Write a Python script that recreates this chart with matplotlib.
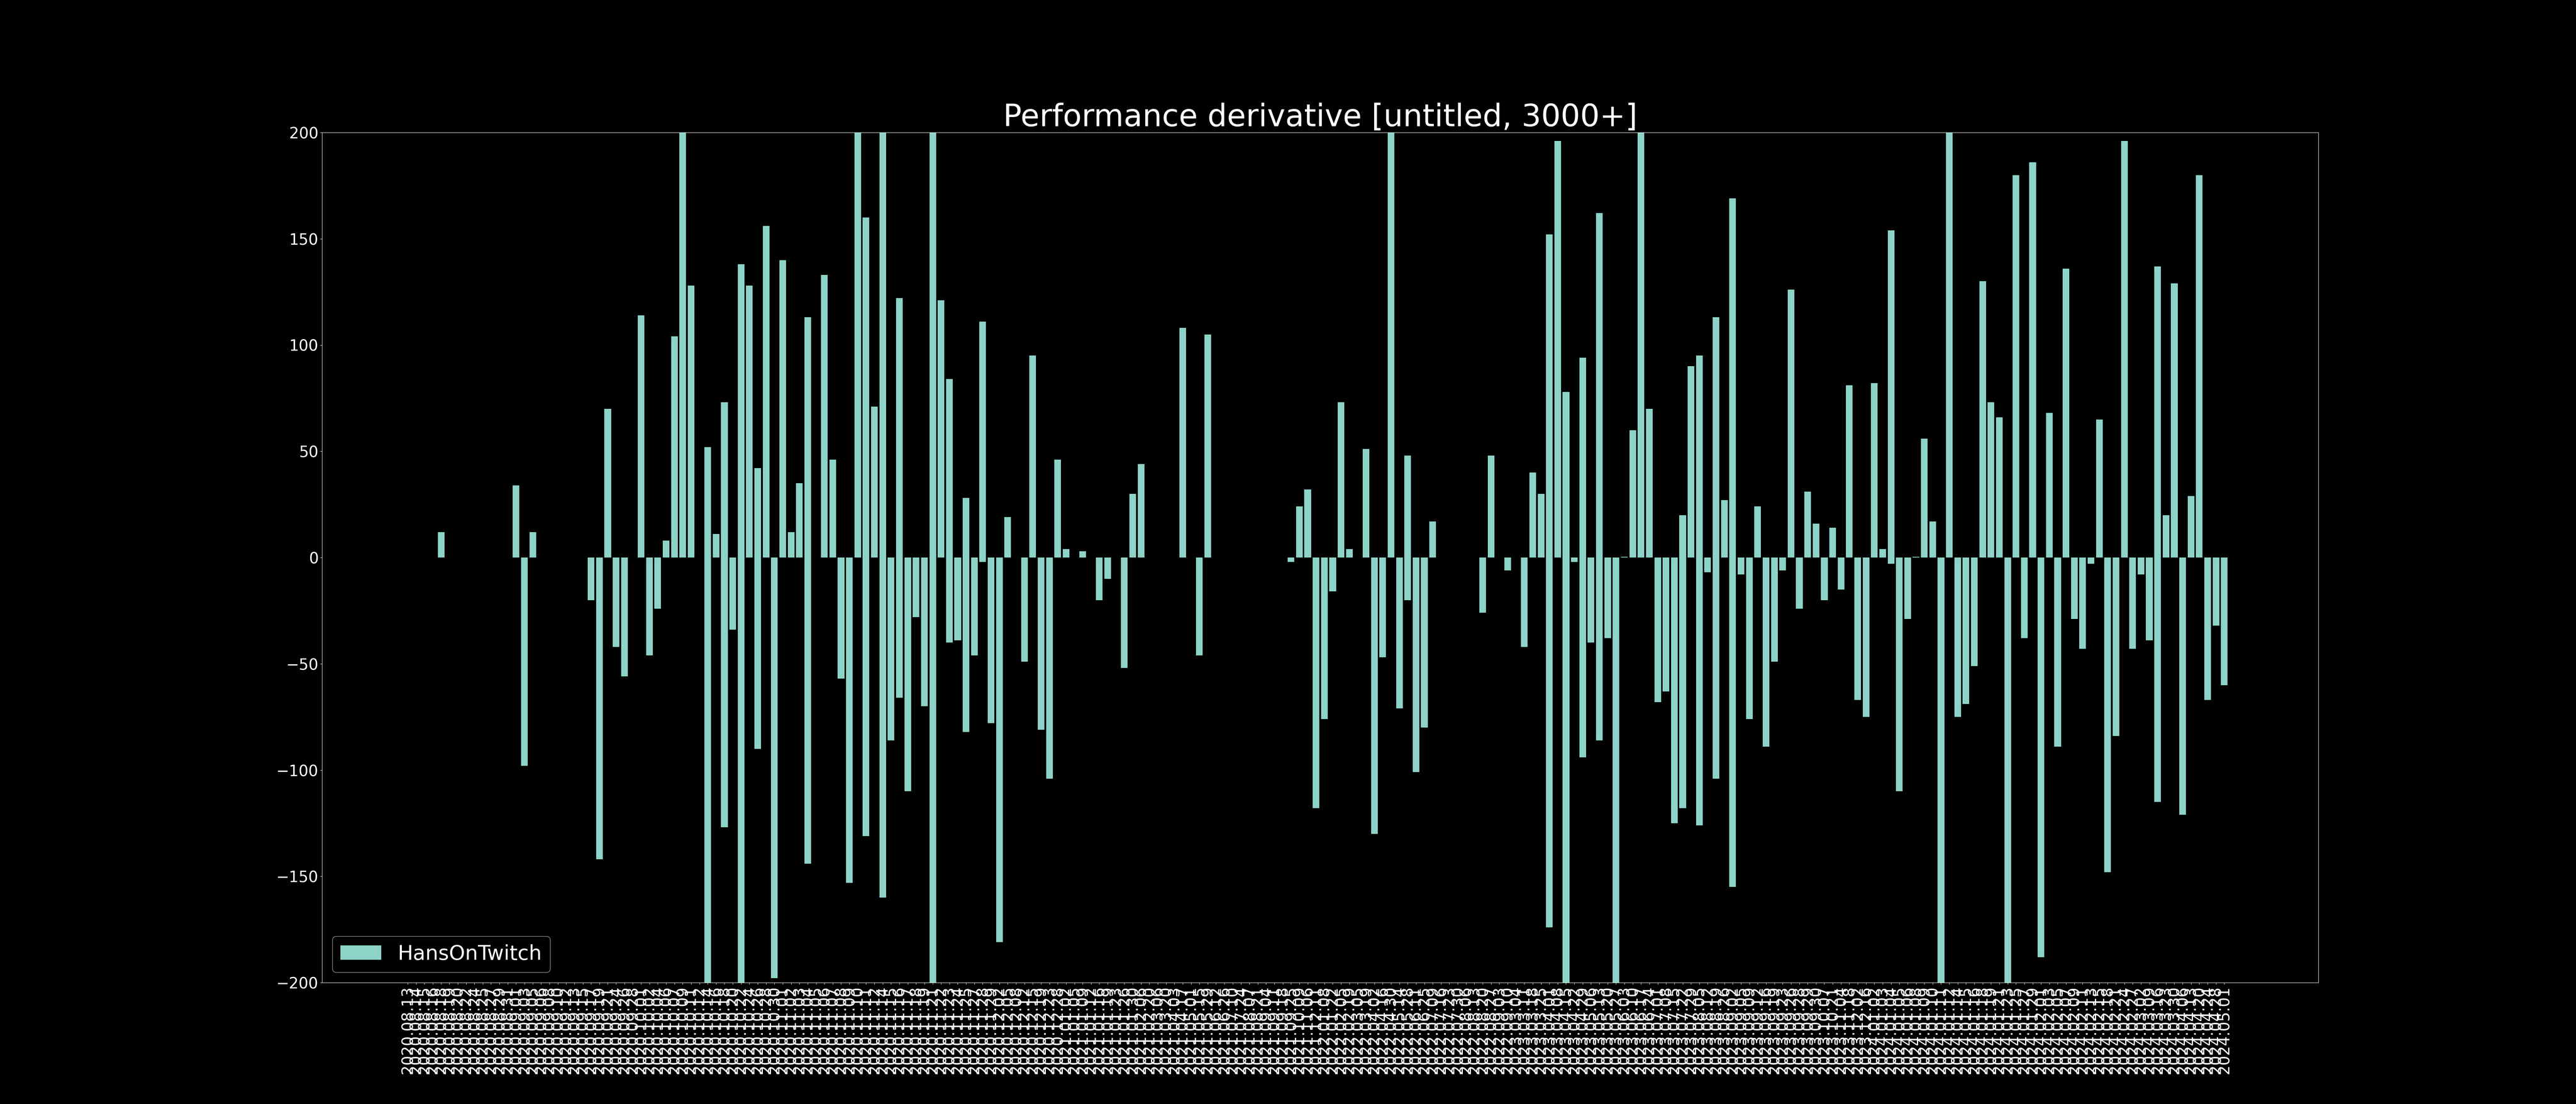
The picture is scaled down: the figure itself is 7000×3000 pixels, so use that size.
import numpy as np
import matplotlib
matplotlib.use("Agg")
import matplotlib.pyplot as plt

title = "Performance derivative [untitled, 3000+]"
series_name = "HansOnTwitch"

dates = [
    "2020.08.13", "2020.08.14", "2020.08.15", "2020.08.16", "2020.08.18", "2020.08.19", "2020.08.20",
    "2020.08.22", "2020.08.24", "2020.08.25", "2020.08.27", "2020.08.29", "2020.08.31",
    "2020.09.01", "2020.09.03", "2020.09.05", "2020.09.06", "2020.09.08", "2020.09.10", "2020.09.12",
    "2020.09.13", "2020.09.15", "2020.09.17", "2020.09.19", "2020.09.21", "2020.09.24", "2020.09.26",
    "2020.09.28",
    "2020.10.01", "2020.10.02", "2020.10.04", "2020.10.06", "2020.10.07", "2020.10.09", "2020.10.11",
    "2020.10.12", "2020.10.14", "2020.10.16", "2020.10.18", "2020.10.20", "2020.10.22", "2020.10.24",
    "2020.10.26", "2020.10.28", "2020.10.30",
    "2020.11.01", "2020.11.02", "2020.11.03", "2020.11.04", "2020.11.05", "2020.11.06", "2020.11.07",
    "2020.11.08", "2020.11.09", "2020.11.10", "2020.11.11", "2020.11.12", "2020.11.14", "2020.11.15",
    "2020.11.16", "2020.11.17", "2020.11.18", "2020.11.19", "2020.11.21", "2020.11.22", "2020.11.23",
    "2020.11.24", "2020.11.25", "2020.11.27", "2020.11.28", "2020.11.29",
    "2020.12.02", "2020.12.05", "2020.12.08", "2020.12.12", "2020.12.15", "2020.12.19", "2020.12.23",
    "2020.12.28",
    "2021.01.02", "2021.01.05", "2021.01.09", "2021.01.12", "2021.01.16", "2021.01.19", "2021.01.23",
    "2021.01.26", "2021.01.30",
    "2021.02.06", "2021.02.20", "2021.03.06", "2021.03.20", "2021.04.03", "2021.04.17", "2021.05.01",
    "2021.05.15", "2021.05.29", "2021.06.12", "2021.06.26", "2021.07.10", "2021.07.24", "2021.08.07",
    "2021.08.21", "2021.09.04", "2021.09.11", "2021.09.18", "2021.09.25",
    "2021.10.09", "2021.11.06", "2021.12.11",
    "2022.01.08", "2022.01.22", "2022.02.05", "2022.02.19", "2022.03.05", "2022.03.19", "2022.04.02",
    "2022.04.16", "2022.04.30", "2022.05.14", "2022.05.28", "2022.06.11", "2022.06.25", "2022.07.09",
    "2022.07.16", "2022.07.23", "2022.07.30", "2022.08.06", "2022.08.13", "2022.08.20", "2022.08.27",
    "2022.09.03", "2022.09.10",
    "2023.03.04", "2023.03.11", "2023.03.18", "2023.03.25", "2023.04.01", "2023.04.08", "2023.04.15",
    "2023.04.22", "2023.04.29", "2023.05.06", "2023.05.13", "2023.05.20", "2023.05.27", "2023.06.03",
    "2023.06.10", "2023.06.17", "2023.06.24", "2023.07.01", "2023.07.08", "2023.07.15", "2023.07.22",
    "2023.07.29", "2023.08.05", "2023.08.12", "2023.08.19", "2023.08.26", "2023.09.02", "2023.09.05",
    "2023.09.09", "2023.09.12", "2023.09.16", "2023.09.19", "2023.09.23", "2023.09.26", "2023.09.28",
    "2023.09.29", "2023.09.30",
    "2023.10.07", "2023.10.21", "2023.11.04", "2023.11.18", "2023.12.02", "2023.12.16",
    "2024.01.02", "2024.01.03", "2024.01.04", "2024.01.05", "2024.01.06", "2024.01.08", "2024.01.09",
    "2024.01.10", "2024.01.11", "2024.01.12", "2024.01.14", "2024.01.15", "2024.01.16", "2024.01.18",
    "2024.01.19", "2024.01.21", "2024.01.23", "2024.01.25", "2024.01.27", "2024.01.29",
    "2024.02.01", "2024.02.03", "2024.02.05", "2024.02.07", "2024.02.09", "2024.02.11", "2024.02.13",
    "2024.02.15", "2024.02.18", "2024.02.21", "2024.02.24", "2024.02.27",
    "2024.03.02", "2024.03.09", "2024.03.16", "2024.03.23", "2024.03.30", "2024.04.06", "2024.04.13",
    "2024.04.20", "2024.04.24", "2024.04.28", "2024.05.01",
]

derivative = [
    np.nan, 0, 0, 0, 12, 0, 0, 0, 0, 0,
    0, 0, 0, 34, -98, 12, 0, 0, 0, 0,
    0, 0, -20, -142, 70, -42, -56, 0, 114, -46,
    -24, 8, 104, 230, 128, 0, 52, 11, 73, -34,
    138, 128, 42, 156, -198, 140, 12, 35, 113, 0,
    133, 46, -57, -153, 220, 160, 71, 260, -86, 122,
    -110, -28, -70, 225, 121, 84, -39, 28, -46, 111,
    -78, -181, 19, 0, -49, 95, -81, -104, 46, 4,
    0, 3, 0, -20, -10, 0, -52, 30, 44, 0,
    0, 0, 0, 108, 0, -46, 105, 0, 0, 0,
    0, 0, 0, 0, 0, 0, -2, 24, 32, -118,
    -76, -16, 73, 4, 0, 51, -130, -47, 245, -71,
    48, -101, -80, 17, 0, 0, 0, 0, 0, -26,
    48, 0, -6, 0, -42, 40, 30, 152, 196, 78,
    -2, 94, -40, 162, -38, -210, 0.3, 60, 235, 70,
    -68, -63, -125, 20, 90, 95, -7, 113, 27, 169,
    -8, -76, 24, -89, -49, -6, 126, -24, 31, 16,
    -20, 14, -15, 81, -67, -75, 82, 4, 154, -110,
    -29, 0.3, 56, 17, -225, 215, -75, -69, -51, 130,
    73, 66, -205, 180, -38, 186, -188, 68, -89, 136,
    -29, -43, -3, 65, -148, -84, 196, -43, -8, -39,
    137, 20, 129, -121, 29, 180, -67, -32, -60,
]

# second entries recorded on an already listed date (drawn on the same category)
extra_dates = [
    "2020.10.14", "2020.10.18", "2020.10.22", "2020.10.26", "2020.11.04", "2020.11.11",
    "2020.11.14", "2020.11.16", "2020.11.21", "2020.11.23", "2020.11.25", "2020.11.28",
    "2022.05.28", "2023.04.01", "2023.04.15", "2023.04.29", "2023.05.13", "2023.07.22",
    "2023.08.05", "2023.08.19", "2023.09.02", "2024.01.04", "2024.03.16",
]
extra_derivative = [
    -240, -127, -215, -90, -144, -131,
    -160, -66, -235, -40, -82, -2,
    -20, -174, -250, -94, -86, -118,
    -126, -104, -155, -3, -115,
]

plt.style.use("dark_background")
fig, ax = plt.subplots(figsize=(70, 30), dpi=100)

ax.bar(dates + extra_dates, derivative + extra_derivative, label=series_name)
ax.set_ylim(-200, 200)
ax.set_title(title, fontsize=60)
ax.tick_params(axis="both", labelsize=30)
ax.tick_params(axis="x", labelrotation=90)
ax.legend(loc="lower left", fontsize=40)

fig.savefig("out.png", dpi=100)
